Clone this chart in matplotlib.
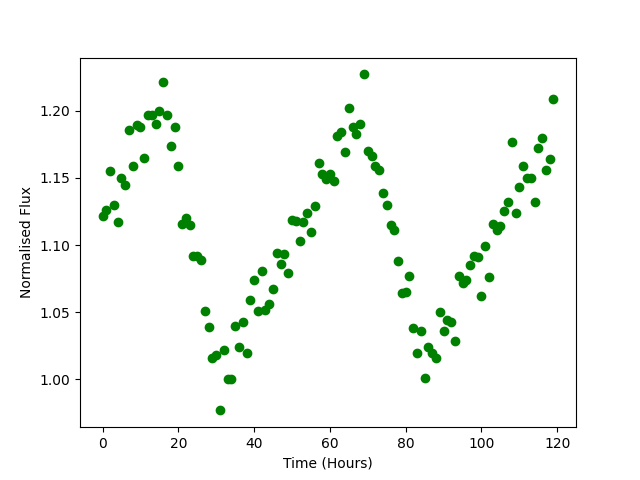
# light curve - normalised flux vs time
import numpy as np
import matplotlib
matplotlib.use('Agg')
import matplotlib.pyplot as plt

hours = np.arange(120)

flux = [1.122, 1.126, 1.155, 1.130, 1.117, 1.150, 1.145, 1.186, 1.159, 1.189,
        1.188, 1.165, 1.197, 1.197, 1.190, 1.200, 1.221, 1.197, 1.174, 1.188,
        1.159, 1.116, 1.120, 1.115, 1.092, 1.092, 1.089, 1.051, 1.039, 1.016,
        1.018, 0.977, 1.022, 1.000, 1.000, 1.040, 1.024, 1.043, 1.020, 1.059,
        1.074, 1.051, 1.081, 1.052, 1.056, 1.067, 1.094, 1.086, 1.093, 1.079,
        1.119, 1.118, 1.103, 1.117, 1.124, 1.110, 1.129, 1.161, 1.153, 1.149,
        1.153, 1.148, 1.181, 1.184, 1.169, 1.202, 1.188, 1.183, 1.190, 1.227,
        1.170, 1.166, 1.159, 1.156, 1.139, 1.130, 1.115, 1.111, 1.088, 1.064,
        1.065, 1.077, 1.038, 1.020, 1.036, 1.001, 1.024, 1.020, 1.016, 1.050,
        1.036, 1.044, 1.043, 1.029, 1.077, 1.072, 1.074, 1.085, 1.092, 1.091,
        1.062, 1.099, 1.076, 1.116, 1.111, 1.114, 1.125, 1.132, 1.177, 1.124,
        1.143, 1.159, 1.150, 1.150, 1.132, 1.172, 1.180, 1.156, 1.164, 1.209]

plt.figure(figsize=(6.4, 4.8), dpi=100)
plt.plot(hours, flux, 'o', color='green')
plt.xlabel('Time (Hours)')
plt.ylabel('Normalised Flux')
plt.savefig("out.png")
